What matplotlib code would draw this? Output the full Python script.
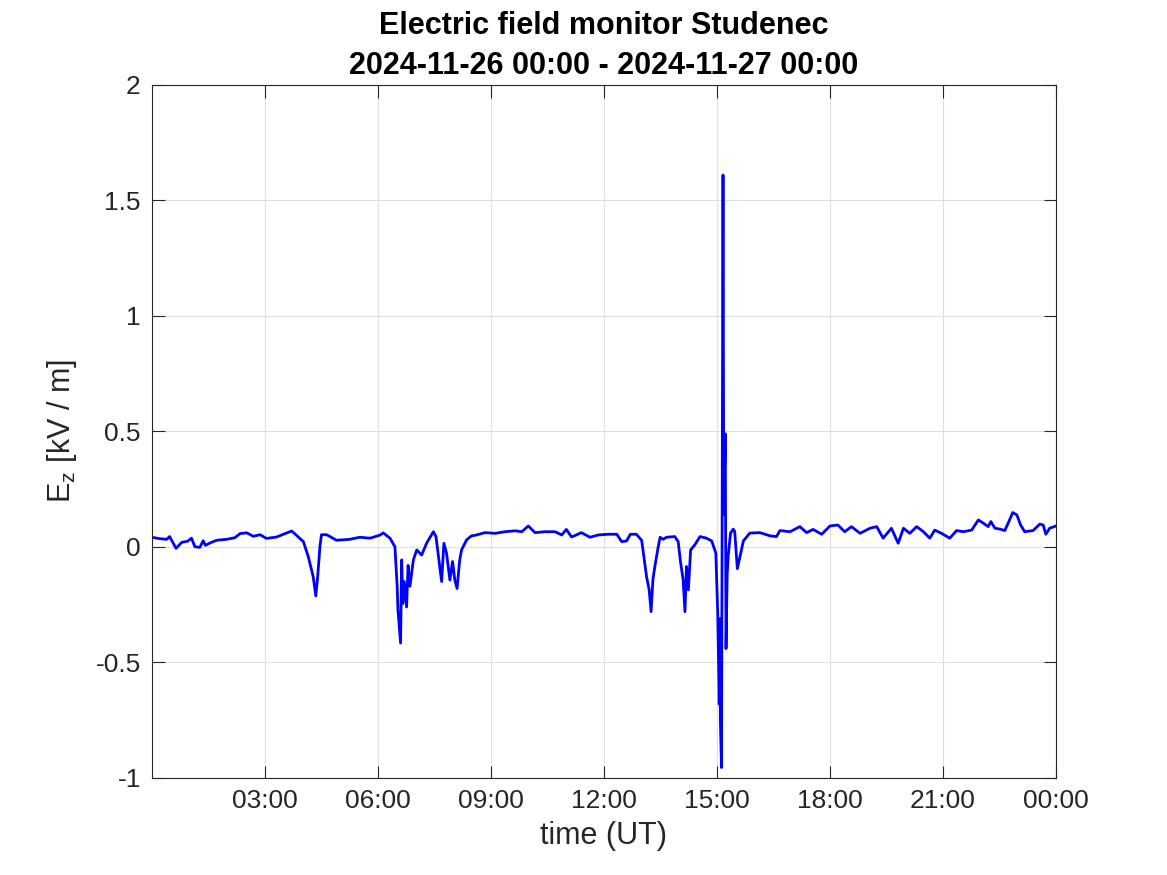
import numpy as np
import matplotlib
matplotlib.use("Agg")
import matplotlib.pyplot as plt

# hours since 2024-11-26 00:00 UT and vertical field Ez in kV/m
hours = [
    0.00, 0.20, 0.39, 0.47, 0.64, 0.79, 0.95, 1.05, 1.14, 1.27, 1.36, 1.42, 1.55, 1.72, 1.98,
    2.20, 2.34, 2.52, 2.69, 2.87, 3.04, 3.31, 3.49, 3.71, 3.84, 4.02, 4.15, 4.28, 4.35, 4.40,
    4.46, 4.50, 4.64, 4.90, 5.25, 5.52, 5.79, 6.05, 6.14, 6.32, 6.45, 6.51, 6.53, 6.60, 6.63,
    6.66, 6.70, 6.76, 6.80, 6.85, 6.94, 7.03, 7.16, 7.29, 7.47, 7.54, 7.63, 7.69, 7.75, 7.82,
    7.91, 7.98, 8.04, 8.10, 8.17, 8.22, 8.35, 8.48, 8.62, 8.84, 9.11, 9.37, 9.64, 9.82, 9.99,
    10.17, 10.43, 10.70, 10.88, 11.00, 11.14, 11.40, 11.63, 11.85, 12.11, 12.34, 12.47, 12.60,
    12.70, 12.86, 13.00, 13.06, 13.13, 13.20, 13.25, 13.30, 13.35, 13.44, 13.49, 13.57, 13.66,
    13.88, 13.97, 14.03, 14.10, 14.15, 14.19, 14.24, 14.30, 14.41, 14.55, 14.72, 14.86, 14.97,
    15.02, 15.06, 15.08, 15.09, 15.12, 15.14, 15.16, 15.18, 15.22, 15.24, 15.27, 15.30, 15.36,
    15.43, 15.47, 15.54, 15.60, 15.70, 15.87, 16.14, 16.41, 16.58, 16.67, 16.94, 17.20, 17.38,
    17.55, 17.78, 18.00, 18.21, 18.39, 18.57, 18.80, 19.06, 19.24, 19.41, 19.63, 19.81, 19.95,
    20.12, 20.30, 20.48, 20.65, 20.78, 20.96, 21.18, 21.36, 21.54, 21.76, 21.94, 22.07, 22.20,
    22.27, 22.38, 22.52, 22.64, 22.73, 22.85, 22.96, 23.06, 23.17, 23.39, 23.57, 23.66, 23.73,
    23.83, 24.00,
]
ez = [
    0.042, 0.036, 0.033, 0.045, -0.006, 0.020, 0.025, 0.038, 0.001, -0.002, 0.027, 0.007, 0.018, 0.029, 0.033,
    0.040, 0.058, 0.061, 0.046, 0.053, 0.037, 0.043, 0.055, 0.069, 0.050, 0.023, -0.042, -0.128, -0.212, -0.128,
    0.003, 0.053, 0.053, 0.029, 0.033, 0.042, 0.038, 0.051, 0.061, 0.038, 0.001, -0.170, -0.270, -0.416, -0.056,
    -0.245, -0.150, -0.260, -0.080, -0.170, -0.056, -0.013, -0.035, 0.016, 0.066, 0.045, -0.070, -0.150, 0.016, -0.027,
    -0.143, -0.063, -0.143, -0.180, -0.056, -0.013, 0.030, 0.048, 0.052, 0.062, 0.059, 0.066, 0.070, 0.066, 0.091,
    0.062, 0.066, 0.066, 0.052, 0.076, 0.043, 0.062, 0.042, 0.052, 0.055, 0.055, 0.023, 0.026,
    0.055, 0.055, 0.029, -0.042, -0.128, -0.186, -0.280, -0.140, -0.085, 0.001, 0.042, 0.033, 0.042,
    0.045, 0.023, -0.063, -0.140, -0.280, -0.085, -0.186, -0.013, 0.009, 0.045, 0.038, 0.026, -0.027,
    -0.290, -0.680, -0.310, -0.750, -0.955, 0.375, 1.610, 0.140, 0.490, -0.440, -0.120, -0.034, 0.060,
    0.077, 0.068, -0.094, -0.050, 0.026, 0.060, 0.062, 0.048, 0.045, 0.071, 0.066, 0.088, 0.062,
    0.076, 0.055, 0.091, 0.095, 0.066, 0.088, 0.059, 0.081, 0.088, 0.038, 0.081, 0.016, 0.081,
    0.059, 0.088, 0.066, 0.038, 0.073, 0.059, 0.038, 0.071, 0.066, 0.073, 0.117, 0.103, 0.088,
    0.110, 0.081, 0.077, 0.071, 0.103, 0.149, 0.139, 0.095, 0.066, 0.071, 0.099, 0.095, 0.055,
    0.081, 0.091,
]

xticks = [3, 6, 9, 12, 15, 18, 21, 24]
xticklabels = ["03:00", "06:00", "09:00", "12:00", "15:00", "18:00", "21:00", "00:00"]
yticks = [-1, -0.5, 0, 0.5, 1, 1.5, 2]
yticklabels = ["-1", "-0.5", "0", "0.5", "1", "1.5", "2"]

DARK = "#262626"

plt.rcParams.update({
    "font.family": ["Liberation Sans", "DejaVu Sans"],
    "mathtext.default": "regular",
    "axes.unicode_minus": False,
})

fig = plt.figure(figsize=(11.67, 8.75), dpi=100)
ax = fig.add_axes([0.1302, 0.1109, 0.7747, 0.7920])

ax.plot(hours, ez, color="#0000FF", linewidth=2.0)

ax.set_xlim(0, 24)
ax.set_ylim(-1, 2)
ax.set_xticks(xticks)
ax.set_xticklabels(xticklabels)
ax.set_yticks(yticks)
ax.set_yticklabels(yticklabels)

ax.grid(True, color="#DFDFDF", linewidth=0.8)
ax.set_axisbelow(True)
ax.tick_params(direction="in", top=True, right=True, length=9, width=0.8,
               labelsize=19, colors=DARK, pad=8)
for s in ax.spines.values():
    s.set_color(DARK)
    s.set_linewidth(0.8)

ax.set_xlabel("time (UT)", fontsize=22, color=DARK, labelpad=6)
ax.set_ylabel(r"E$_z$ [kV / m]", fontsize=22, color=DARK, labelpad=12)
ax.set_title("Electric field monitor Studenec\n2024-11-26 00:00 - 2024-11-27 00:00",
             fontsize=22, fontweight="bold", color="black", pad=8, linespacing=1.45)

fig.savefig("out.png", dpi=100, facecolor="white")
